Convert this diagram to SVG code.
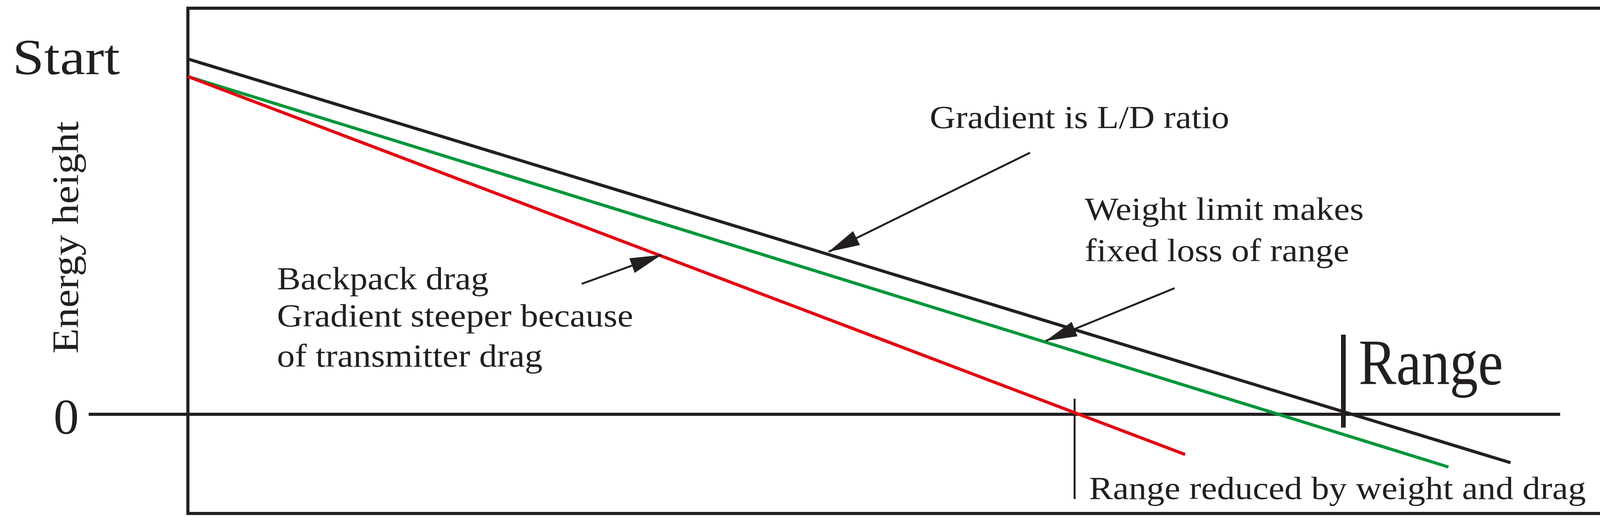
<svg xmlns="http://www.w3.org/2000/svg" width="4147" height="1342" viewBox="0 0 4147 1342">
<style>
text{font-family:"Liberation Serif","Times New Roman",serif;fill:#231f20}
.lbl{font-size:82px}
.pt{stroke:#231f20;stroke-width:5;fill:none}
</style>
<defs>
<marker id="ah" viewBox="0 0 20 10" refX="20" refY="5" markerWidth="16" markerHeight="8" markerUnits="strokeWidth" orient="auto"><path d="M0,0 L20,5 L0,10 Z" fill="#231f20"/></marker>
</defs>
<rect width="4147" height="1342" fill="#fff"/>
<g id="frame"><rect x="481" y="21" width="3650" height="1294" fill="none" stroke="#231f20" stroke-width="8"/></g>
<g id="axes">
<line x1="227" y1="1061" x2="3994" y2="1061" stroke="#231f20" stroke-width="8"/>
<line x1="3439" y1="857" x2="3439" y2="1095" stroke="#231f20" stroke-width="12"/>
<line x1="2751" y1="1021" x2="2751" y2="1278" stroke="#231f20" stroke-width="5"/>
</g>
<g id="lines">
<line x1="481" y1="151" x2="3867" y2="1185" stroke="#231f20" stroke-width="8"/>
<line x1="481" y1="196" x2="3708" y2="1196" stroke="#009639" stroke-width="8"/>
<line x1="481" y1="196" x2="3034" y2="1164" stroke="#e30613" stroke-width="8"/>
</g>
<g id="connectors">
<line class="pt" x1="2637" y1="391" x2="2121" y2="645" marker-end="url(#ah)"/>
<line class="pt" x1="3007" y1="738" x2="2677" y2="873" marker-end="url(#ah)"/>
<line class="pt" x1="1489" y1="727" x2="1693" y2="653" marker-end="url(#ah)"/>
</g>
<g id="labels">
<text x="32" y="190" font-size="130" textLength="275" lengthAdjust="spacingAndGlyphs">Start</text>
<text x="137" y="1111" font-size="130">0</text>
<text transform="translate(200,608) rotate(-90)" text-anchor="middle" font-size="95" textLength="595" lengthAdjust="spacingAndGlyphs">Energy height</text>
<text x="3478" y="984" font-size="165" textLength="370" lengthAdjust="spacingAndGlyphs">Range</text>
<text class="lbl" x="2380" y="328" textLength="767" lengthAdjust="spacingAndGlyphs">Gradient is L/D ratio</text>
<text class="lbl" x="2777" y="563" textLength="714" lengthAdjust="spacingAndGlyphs">Weight limit makes</text>
<text class="lbl" x="2777" y="669" textLength="677" lengthAdjust="spacingAndGlyphs">fixed loss of range</text>
<text class="lbl" x="709" y="741" textLength="542" lengthAdjust="spacingAndGlyphs">Backpack drag</text>
<text class="lbl" x="709" y="836" textLength="912" lengthAdjust="spacingAndGlyphs">Gradient steeper because</text>
<text class="lbl" x="709" y="939" textLength="680" lengthAdjust="spacingAndGlyphs">of transmitter drag</text>
<text class="lbl" x="2788" y="1278" textLength="1272" lengthAdjust="spacingAndGlyphs">Range reduced by weight and drag</text>
</g>
</svg>
